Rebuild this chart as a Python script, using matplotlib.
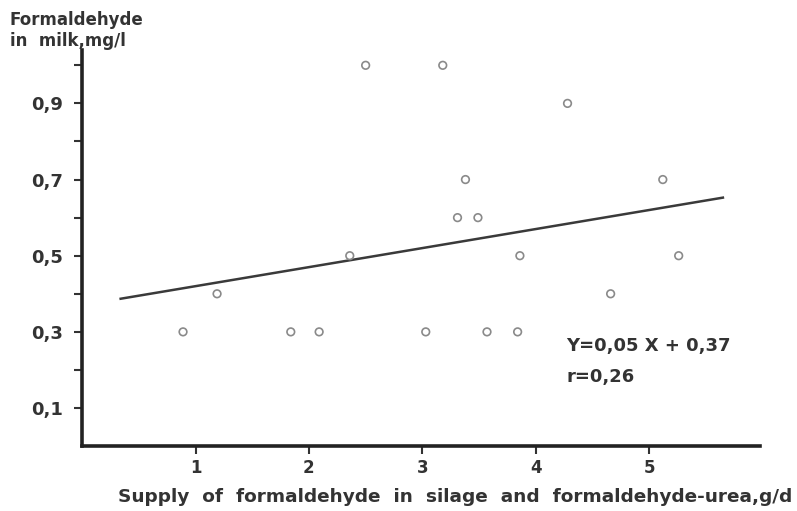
import matplotlib
matplotlib.use("Agg")
import matplotlib.pyplot as plt
import numpy as np

supply = [0.89, 1.19, 1.84, 2.09, 2.36, 2.50, 3.18, 3.03, 3.31, 3.38, 3.49, 3.57, 3.86, 3.84, 4.28, 4.66, 5.12, 5.26]
formaldehyde = [0.30, 0.40, 0.30, 0.30, 0.50, 1.00, 1.00, 0.30, 0.60, 0.70, 0.60, 0.30, 0.50, 0.30, 0.90, 0.40, 0.70, 0.50]
slope, intercept = 0.05, 0.37
line_x = [0.34, 5.65]
xticks = [1, 2, 3, 4, 5]
xticklabels = ["1", "2", "3", "4", "5"]
yticks = [0.1, 0.3, 0.5, 0.7, 0.9]
yticklabels = ["0,1", "0,3", "0,5", "0,7", "0,9"]
yminor = [0.2, 0.4, 0.6, 0.8, 1.0]

plt.rcParams['font.family'] = ['DejaVu Sans']
fig = plt.figure(figsize=(7.97, 5.11), dpi=100)
ax = fig.add_axes([0.103, 0.127, 0.851, 0.775])
ax.set_xlim(0, 5.98)
ax.set_ylim(0, 1.04)

ax.scatter(supply, formaldehyde, s=30, facecolors='none', edgecolors='#8a8a8a', linewidths=1.2, zorder=3)
lx = np.array(line_x)
ax.plot(lx, slope * lx + intercept, color='#3a3a3a', lw=1.8)

for s in ['top', 'right']:
    ax.spines[s].set_visible(False)
for s in ['left', 'bottom']:
    ax.spines[s].set_linewidth(2.6)
    ax.spines[s].set_color('#222222')

ax.set_xticks(xticks)
ax.set_xticklabels(xticklabels, fontsize=12, fontweight='bold', color='#333333')
ax.set_yticks(yticks)
ax.set_yticklabels(yticklabels, fontsize=13, fontweight='bold', color='#333333')
ax.set_yticks(yminor, minor=True)
ax.tick_params(axis='x', which='major', direction='out', length=6, width=1.5, color='#333333', pad=3)
ax.tick_params(axis='y', which='major', direction='out', length=6, width=1.5, color='#333333', pad=8)
ax.tick_params(axis='y', which='minor', direction='out', length=6, width=1.5, color='#333333')

ax.text(4.27, 0.263, "Y=0,05 X + 0,37", fontsize=13, fontweight='bold', color='#333333', va='center')
ax.text(4.27, 0.182, "r=0,26", fontsize=13, fontweight='bold', color='#333333', va='center')

fig.text(0.012, 0.978, "Formaldehyde\nin  milk,mg/l", fontsize=12, fontweight='bold', color='#333333',
         va='top', ha='left', linespacing=1.2, zorder=5)
fig.text(0.148, 0.027, "Supply  of  formaldehyde  in  silage  and  formaldehyde-urea,g/d",
         fontsize=13.3, fontweight='bold', color='#333333', va='center', ha='left')

fig.savefig("out.png", dpi=100, facecolor='white')
